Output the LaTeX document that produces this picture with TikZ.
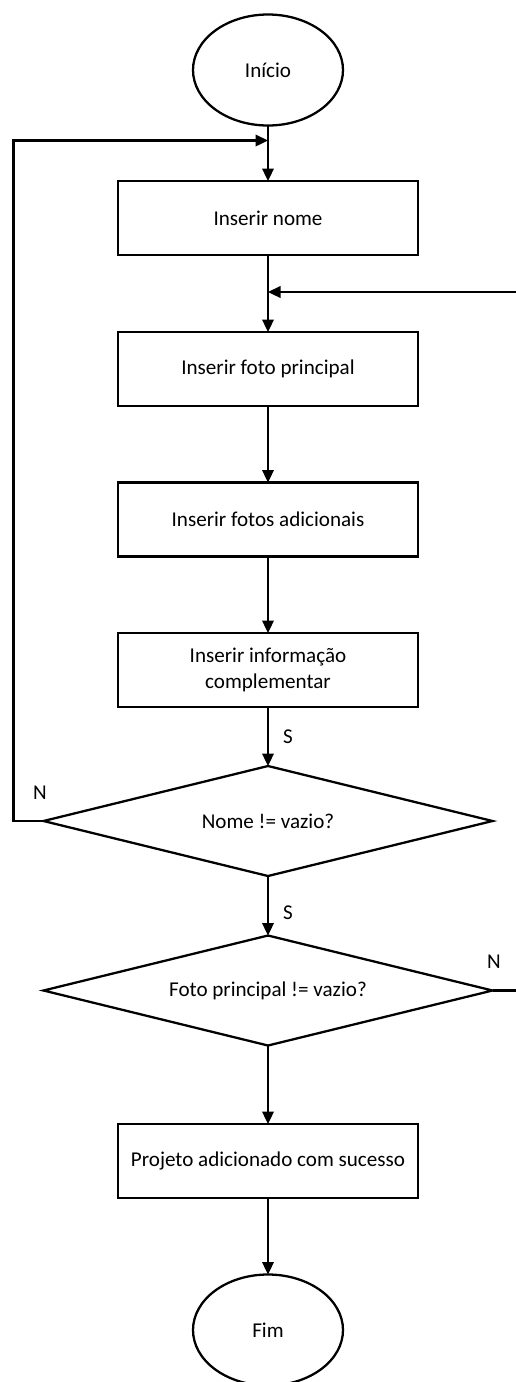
\documentclass[tikz,border=0pt]{standalone}
\usepackage{fontspec}
\setmainfont{Carlito}
\usetikzlibrary{positioning,arrows.meta,shapes.geometric}

\begin{document}
\begin{tikzpicture}[font=\fontsize{12}{15}\selectfont,line width=1.3pt,
  >={Triangle[width=2.3mm,length=2.5mm]}]
  \tikzset{pb/.style={rectangle,draw,outer sep=0pt,minimum width=60mm,minimum height=14.8mm,align=center,inner sep=2pt},
    term/.style={ellipse,draw,outer sep=0pt,minimum width=30mm,minimum height=22.2mm,inner sep=0pt},
    dec/.style={diamond,draw,outer sep=0pt,aspect=4,minimum width=89.8mm,minimum height=22mm,inner sep=0pt},
    lbl/.style={inner sep=1pt}}
  \useasboundingbox (0,0) rectangle (10.3,-27.64);
  \node[term] (ini) at (5.36,-1.4) {Início};
  \node[pb,below=11.1mm of ini] (nome) {Inserir nome};
  \node[pb,below=15.4mm of nome] (foto) {Inserir foto principal};
  \node[pb,below=15.3mm of foto] (fotos) {Inserir fotos adicionais};
  \node[pb,below=15.3mm of fotos] (info) {Inserir informação\\complementar};
  \node[dec,below=11.8mm of info] (d1) {Nome != vazio?};
  \node[dec,below=11.9mm of d1] (d2) {Foto principal != vazio?};
  \node[pb,below=15.7mm of d2] (proj) {Projeto adicionado com sucesso};
  \node[term,below=15.3mm of proj] (fim) {Fim};
  \coordinate[below=3mm of ini] (j1);
  \coordinate[below=7.4mm of nome] (j2);
  % fluxo principal
  \draw[->] (ini) -- (nome);
  \draw[->] (nome) -- (foto);
  \draw[->] (foto) -- (fotos);
  \draw[->] (fotos) -- (info);
  \draw[->] (info) -- (d1);
  \draw[->] (d1) -- (d2);
  \draw[->] (d2) -- (proj);
  \draw[->] (proj) -- (fim);
  % retornos
  \draw[->] (d1.west) -- ++(-0.6,0) |- (j1);
  \draw[->] (d2.east) -- ++(0.5,0) |- (j2);
  \node[lbl] (s1) at (5.76,-14.74) {S};
  \node[lbl] (s2) at (5.76,-18.26) {S};
  \node[lbl] (n1) at (0.8,-15.86) {N};
  \node[lbl] (n2) at (9.88,-19.24) {N};
\end{tikzpicture}
\end{document}
